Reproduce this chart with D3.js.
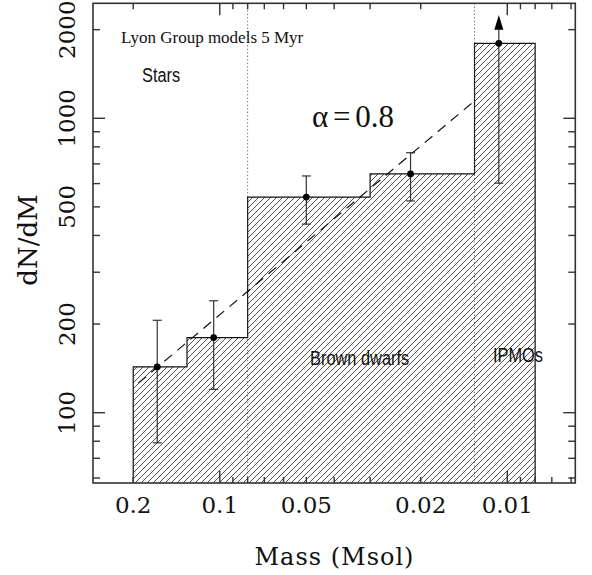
<!DOCTYPE html>
<html>
<head>
<meta charset="utf-8">
<script src="https://cdn.jsdelivr.net/npm/d3@7"></script>
<style>
  body { margin: 0; background: #fff; }
  svg { display: block; }
</style>
</head>
<body>
<svg id="chart" width="592" height="575"></svg>
<script>
// histogram bins (mass edges in Msol, decreasing) and dN/dM heights
let binEdges = [0.2, 0.13, 0.08, 0.03, 0.013, 0.008];
let binValues = [143, 180, 540, 647, 1798];

// data points with error bars
let pointMass = [0.165, 0.105, 0.05, 0.0217, 0.0107];
let pointValue = [143, 180, 540, 647, 1798];
let errLow = [79, 120, 437, 524, 602];
let errHigh = [206, 240, 637, 764, null];  // last one is a lower limit (arrow)
let arrowTip = 2244;
let arrowBase = 1997;

// alpha = 0.8 power-law fit, end points
let fitMass = [0.192, 0.0133];
let fitValue = [126, 1125];

// boundaries: stars / brown dwarfs / IPMOs
let boundaries = [0.08, 0.013];

let xLabels = [0.2, 0.1, 0.05, 0.02, 0.01];
let yLabels = [100, 200, 500, 1000, 2000];

let svg = d3.select('#chart');

let pLeft = 93, pRight = 575.3, pTop = 3.3, pBottom = 483;

let x = d3.scaleLog().domain([0.276, 0.0058]).range([pLeft, pRight]);
let y = d3.scaleLog().domain([57.7, 2458]).range([pBottom, pTop]);

let defs = svg.append('defs');
let pat = defs.append('pattern')
  .attr('id', 'hatch')
  .attr('patternUnits', 'userSpaceOnUse')
  .attr('width', 6)
  .attr('height', 6);
pat.append('path')
  .attr('d', 'M0,6L6,0M-1.5,1.5L1.5,-1.5M4.5,7.5L7.5,4.5')
  .style('stroke', '#222')
  .style('stroke-width', 0.8);

// histogram step outline
let pathStr = `M${x(binEdges[0])},${pBottom}`;
binValues.forEach((v, i) => {
  pathStr += `L${x(binEdges[i])},${y(v)}L${x(binEdges[i + 1])},${y(v)}`;
});
pathStr += `L${x(binEdges[binEdges.length - 1])},${pBottom}`;

svg.append('path')
  .attr('d', pathStr + 'Z')
  .style('fill', 'url(#hatch)')
  .style('stroke', 'none');
svg.append('path')
  .attr('d', pathStr)
  .style('fill', 'none')
  .style('stroke', '#111')
  .style('stroke-width', 1.2);

// dotted boundary lines
svg.selectAll('line.bound')
  .data(boundaries)
  .enter()
  .append('line')
  .attr('class', 'bound')
  .attr('x1', d => x(d)).attr('x2', d => x(d))
  .attr('y1', pTop).attr('y2', pBottom)
  .style('stroke', '#444')
  .style('stroke-width', 1)
  .style('stroke-dasharray', '1,2.5');

// dashed fit line
svg.append('line')
  .attr('x1', x(fitMass[0])).attr('y1', y(fitValue[0]))
  .attr('x2', x(fitMass[1])).attr('y2', y(fitValue[1]))
  .style('stroke', '#111')
  .style('stroke-width', 1.2)
  .style('stroke-dasharray', '10,7');

// error bars
let pts = pointMass.map((m, i) => ({m: m, v: pointValue[i], lo: errLow[i], hi: errHigh[i]}));
let capW = 4.5;
pts.forEach(d => {
  let g = svg.append('g').style('stroke', '#333').style('stroke-width', 1.2);
  let hi = d.hi == null ? arrowBase : d.hi;
  g.append('line')
    .attr('x1', x(d.m)).attr('x2', x(d.m))
    .attr('y1', y(d.lo)).attr('y2', y(hi));
  g.append('line')
    .attr('x1', x(d.m) - capW).attr('x2', x(d.m) + capW)
    .attr('y1', y(d.lo)).attr('y2', y(d.lo));
  if (d.hi != null) {
    g.append('line')
      .attr('x1', x(d.m) - capW).attr('x2', x(d.m) + capW)
      .attr('y1', y(d.hi)).attr('y2', y(d.hi));
  } else {
    svg.append('path')
      .attr('d', `M${x(d.m)},${y(arrowTip)}L${x(d.m) - 4.5},${y(arrowBase)}L${x(d.m) + 4.5},${y(arrowBase)}Z`)
      .style('fill', '#000');
  }
});

svg.selectAll('circle.pt')
  .data(pts)
  .enter()
  .append('circle')
  .attr('class', 'pt')
  .attr('cx', d => x(d.m))
  .attr('cy', d => y(d.v))
  .attr('r', 3.4)
  .style('fill', '#000');

// frame
svg.append('rect')
  .attr('x', pLeft).attr('y', pTop)
  .attr('width', pRight - pLeft).attr('height', pBottom - pTop)
  .style('fill', 'none')
  .style('stroke', '#333')
  .style('stroke-width', 1.6);

function isMajor(v) {
  let l = Math.log10(v);
  return Math.abs(l - Math.round(l)) < 1e-6;
}

// x ticks, bottom and top, pointing inward
let xt = x.ticks();
let tickG = svg.append('g').style('stroke', '#333').style('stroke-width', 1.4);
xt.forEach(t => {
  let len = isMajor(t) ? 12 : 6;
  tickG.append('line').attr('x1', x(t)).attr('x2', x(t)).attr('y1', pBottom).attr('y2', pBottom - len);
  tickG.append('line').attr('x1', x(t)).attr('x2', x(t)).attr('y1', pTop).attr('y2', pTop + len);
});
let yt = y.ticks();
yt.forEach(t => {
  let len = isMajor(t) ? 12 : 7;
  tickG.append('line').attr('x1', pLeft).attr('x2', pLeft + len).attr('y1', y(t)).attr('y2', y(t));
  tickG.append('line').attr('x1', pRight).attr('x2', pRight - len).attr('y1', y(t)).attr('y2', y(t));
});

// tick labels
svg.selectAll('text.xl')
  .data(xLabels)
  .enter()
  .append('text')
  .attr('class', 'xl')
  .attr('x', d => x(d))
  .attr('y', 513)
  .attr('text-anchor', 'middle')
  .style('font-family', '"DejaVu Serif"')
  .style('font-size', '23px')
  .style('fill', '#111')
  .text(d => d);

svg.selectAll('text.yl')
  .data(yLabels)
  .enter()
  .append('text')
  .attr('class', 'yl')
  .attr('transform', d => `translate(75,${y(d)}) rotate(-90)`)
  .attr('text-anchor', 'middle')
  .style('font-family', '"DejaVu Serif"')
  .style('font-size', '23px')
  .style('fill', '#111')
  .text(d => d);

// axis titles
svg.append('text')
  .attr('x', 334.5).attr('y', 565)
  .attr('text-anchor', 'middle')
  .style('font-family', '"DejaVu Serif"')
  .style('font-size', '24px')
  .style('letter-spacing', '1px')
  .style('fill', '#111')
  .text('Mass (Msol)');

svg.append('text')
  .attr('transform', 'translate(37,240) rotate(-90)')
  .attr('text-anchor', 'middle')
  .style('font-family', '"DejaVu Serif"')
  .style('font-size', '26px')
  .style('fill', '#111')
  .text('dN/dM');

// annotations
svg.append('text')
  .attr('x', 121).attr('y', 43)
  .style('font-family', '"Liberation Serif", serif')
  .style('font-size', '17px')
  .style('fill', '#111')
  .text('Lyon Group models 5 Myr');

svg.append('text')
  .attr('x', 312).attr('y', 127)
  .style('font-family', '"Liberation Serif", serif')
  .style('font-size', '31px')
  .style('word-spacing', '-3px')
  .style('fill', '#111')
  .text('α = 0.8');

let sansNotes = [
  {t: 'Stars', x: 142, y: 82},
  {t: 'Brown dwarfs', x: 310, y: 365},
  {t: 'IPMOs', x: 493, y: 362}
];
svg.selectAll('text.note')
  .data(sansNotes)
  .enter()
  .append('text')
  .attr('class', 'note')
  .attr('transform', d => `translate(${d.x},${d.y}) scale(0.78,1)`)
  .style('font-family', '"Liberation Sans", Arial, sans-serif')
  .style('font-size', '21px')
  .style('fill', '#111')
  .text(d => d.t);
</script>
</body>
</html>
